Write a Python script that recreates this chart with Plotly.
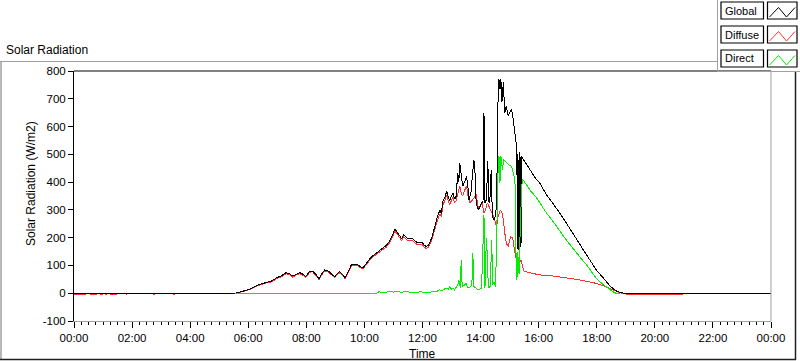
import plotly.graph_objects as go

# ---------------- data ----------------
global_times = ["00:00","05:32","05:45","06:03","06:20","06:34","06:48","06:59","07:08","07:18","07:25","07:32","07:40","07:47","07:53","07:59",
    "08:07","08:13","08:20","08:26","08:32","08:38","08:44","08:49","08:54","08:59","09:04","09:09","09:15","09:20","09:27","09:33",
    "09:40","09:46","09:52","09:57","10:05","10:15","10:25","10:38","10:45","10:50","10:57","11:03","11:10","11:17","11:21","11:26",
    "11:30","11:35","11:40","11:45","11:50","11:55","12:00","12:04","12:08","12:12","12:15","12:20","12:25","12:30","12:36","12:39",
    "12:42","12:46","12:50","12:53","12:56","13:00","13:03","13:06","13:09","13:13","13:15","13:17","13:20","13:23","13:27","13:31",
    "13:34","13:36","13:40","13:44","13:46","13:48","13:51","13:56","14:02","14:05","14:07","14:09","14:12","14:15","14:17","14:19",
    "14:22","14:24","14:26","14:29","14:33","14:36","14:38","14:40","14:42","14:44","14:47","14:50","14:53","14:57","15:00","15:04",
    "15:07","15:10","15:13","15:15","15:16","15:17","15:18","15:19","15:20","15:21","15:22","15:23","15:24","15:25","15:26","15:31",
    "15:38","15:45","15:53","16:02","16:09","16:16","16:26","16:37","16:47","16:57","17:08","17:18","17:29","17:39","17:49","17:59",
    "18:10","18:20","18:28","18:37","18:44","18:51","18:55","24:00"]
global_values = [0,0,5,15,30,38,44,56,62,74,70,62,70,74,68,60,
    80,80,68,52,70,84,80,75,66,60,70,78,68,55,80,102,
    104,102,96,91,110,132,145,163,172,183,205,232,212,196,210,203,
    196,198,196,188,181,184,181,172,168,172,181,205,240,270,300,285,
    331,345,367,350,331,350,362,340,343,434,400,470,421,385,400,421,
    380,337,360,434,480,457,319,300,326,330,650,326,337,475,330,326,
    445,300,265,265,313,687,770,734,770,687,759,650,674,638,650,662,
    632,578,547,518,160,500,155,480,170,510,165,490,180,495,488,475,
    455,433,415,397,375,355,332,307,280,253,222,192,165,138,110,84,
    62,42,25,12,5,2,0,0]

diffuse_times = ["00:00","00:25","00:27","00:33","00:47","00:49","00:54","01:00","01:02","01:04","01:08","01:10","01:14","01:29","01:31",
    "01:41","01:49","01:51","01:58","02:02","02:04","02:39","02:47","02:49","03:26","03:28","03:30","05:32",
    "05:45","06:03","06:20","06:34","06:48","06:59","07:08","07:18","07:25","07:32","07:40","07:47","07:53","07:59",
    "08:07","08:13","08:20","08:26","08:32","08:38","08:44","08:49","08:54","08:59","09:04","09:09","09:15","09:20","09:27","09:33",
    "09:40","09:46","09:52","09:57","10:05","10:15","10:25","10:38","10:45","10:50","10:57","11:03","11:10","11:17","11:21","11:26",
    "11:30","11:35","11:40","11:45","11:50","11:55","12:00","12:04","12:08","12:12","12:15","12:20","12:25","12:30","12:36","12:39",
    "12:42","12:46","12:50","12:53","12:56","13:00","13:03","13:06","13:09","13:13","13:17","13:20","13:23","13:27","13:31","13:34",
    "13:38","13:44","13:48","13:51","13:56","14:03","14:07","14:10","14:14","14:18","14:22","14:26","14:29","14:33","14:36","14:38",
    "14:41","14:43","14:46","14:50","14:53","14:57","15:00","15:02","15:05","15:07","15:10","15:14","15:19","15:22","15:24","15:27",
    "15:29","15:38","15:48","16:02","16:30","16:57","17:25","17:53","18:13","18:34","18:45","18:51","19:00","19:01","20:58","21:00","24:00"]
diffuse_values = [-3,-3,0,-3,-3,0,-3,-3,0,-3,-3,0,-3,-3,0,
    -3,-3,0,-3,-3,0,-3,-3,0,-3,-3,0,0,
    4,13,27,36,41,53,59,70,67,58,67,70,65,57,
    76,77,64,49,66,80,77,71,62,57,66,74,65,52,76,98,
    100,98,92,87,106,127,140,157,166,177,198,225,205,189,202,196,
    189,191,189,181,174,177,174,165,161,165,174,196,230,258,285,275,
    318,332,352,335,318,335,345,328,330,360,385,361,350,370,385,350,
    325,337,345,355,300,325,289,300,325,310,300,280,265,240,275,289,
    300,295,277,217,181,168,185,204,200,192,156,120,108,115,120,95,
    80,75,72,66,62,56,48,38,27,12,4,0,0,-3,-3,0,0]

direct_times = ["05:32","10:25","10:30","10:40","10:50","11:00","11:08","11:15","11:25","11:35","11:45","11:55","12:05","12:15","12:22",
    "12:29","12:35","12:40","12:45","12:50","12:53","12:56","13:00","13:03","13:06","13:10","13:13","13:15","13:18","13:20","13:22",
    "13:27","13:31","13:33","13:38","13:42","13:44","13:46","13:50","13:55","14:02","14:05","14:07","14:09","14:12","14:14","14:16",
    "14:20","14:23","14:25","14:28","14:31","14:34","14:36","14:38","14:40","14:42","14:45","14:48","14:53","14:58","15:04","15:07",
    "15:09","15:11","15:12","15:14","15:16","15:17","15:19","15:20","15:22","15:24","15:26","15:29","15:36","15:44","15:56","16:06",
    "16:16","16:27","16:37","16:47","16:57","17:08","17:18","17:29","17:39","17:49","17:59","18:10","18:20","18:30","18:37","18:43","18:48"]
direct_values = [0,0,5,2,6,4,8,3,6,4,2,5,3,2,8,
    6,12,8,15,18,14,24,14,19,12,24,30,48,20,120,24,
    30,36,19,22,30,144,24,20,12,19,174,280,19,200,130,20,
    24,190,30,40,24,326,433,493,397,493,445,481,470,462,457,430,
    421,410,200,48,150,60,132,70,250,330,409,405,385,367,343,315,
    289,265,240,216,192,168,144,122,102,77,54,36,22,10,2,-2,-2]

y_tick_values = [-100, 0, 100, 200, 300, 400, 500, 600, 700, 800]
y_tick_labels = ["-100", "0", "100", "200", "300", "400", "500", "600", "700", "800"]
legend_names = ["Global", "Diffuse", "Direct"]
legend_colors = ["#000000", "#ff3030", "#00ee00"]


def ts(t):
    if t == "24:00":
        return "2000-01-02 00:00"
    return "2000-01-01 " + t


FONT = "Liberation Sans"
L, T, W, H = 74, 71, 697, 250


def px(x):
    return (x - L) / W


def py(y):
    return (T + H - y) / H


fig = go.Figure()
fig.add_trace(go.Scatter(x=[ts(t) for t in diffuse_times], y=diffuse_values, mode="lines",
                         line=dict(color=legend_colors[1], width=1), name="Diffuse"))
fig.add_trace(go.Scatter(x=[ts(t) for t in global_times], y=global_values, mode="lines",
                         line=dict(color=legend_colors[0], width=1), name="Global"))
fig.add_trace(go.Scatter(x=[ts(t) for t in direct_times], y=direct_values, mode="lines",
                         line=dict(color=legend_colors[2], width=1), name="Direct"))

shapes = []
shapes.append(dict(type="line", xref="paper", yref="paper", x0=0, x1=1, y0=1, y1=1,
                   line=dict(color="black", width=1)))
shapes.append(dict(type="line", xref="paper", yref="paper", x0=1, x1=1, y0=0, y1=1,
                   line=dict(color="#a0a0a0", width=1)))
shapes.append(dict(type="line", xref="paper", yref="paper", x0=px(0), x1=px(717.5), y0=py(61.5), y1=py(61.5),
                   line=dict(color="#a0a0a0", width=1)))
shapes.append(dict(type="line", xref="paper", yref="paper", x0=px(1), x1=px(1), y0=py(61.5), y1=py(360),
                   line=dict(color="#a0a0a0", width=1.5)))
shapes.append(dict(type="line", xref="paper", yref="paper", x0=px(0), x1=px(796), y0=py(359.5), y1=py(359.5),
                   line=dict(color="#202020", width=1.5)))
shapes.append(dict(type="line", xref="paper", yref="paper", x0=px(795.5), x1=px(795.5), y0=py(72), y1=py(360),
                   line=dict(color="#202020", width=1.5)))
shapes.append(dict(type="line", xref="paper", yref="paper", x0=px(717.5), x1=px(717.5), y0=py(0), y1=py(71.5),
                   line=dict(color="#a0a0a0", width=1)))
shapes.append(dict(type="line", xref="paper", yref="paper", x0=px(717.5), x1=px(800), y0=py(71.5), y1=py(71.5),
                   line=dict(color="#a0a0a0", width=1)))

annotations = []
row_tops = [2, 26, 50]
for name, color, top in zip(legend_names, legend_colors, row_tops):
    shapes.append(dict(type="rect", xref="paper", yref="paper", x0=px(721), x1=px(763.5),
                       y0=py(top), y1=py(top + 17), line=dict(color="black", width=1.2), fillcolor="white"))
    shapes.append(dict(type="rect", xref="paper", yref="paper", x0=px(767.5), x1=px(797),
                       y0=py(top), y1=py(top + 17), line=dict(color="black", width=1.2), fillcolor="white"))
    pts = [(769.5, top + 15), (778.5, top + 5.5), (786.5, top + 15), (795, top + 5.5)]
    path = "M " + " L ".join(f"{px(a)},{py(b)}" for a, b in pts)
    shapes.append(dict(type="path", xref="paper", yref="paper", path=path,
                       line=dict(color=color, width=1)))
    annotations.append(dict(text=name, xref="paper", yref="paper", x=px(723), y=py(top + 8.5),
                            xanchor="left", yanchor="middle", showarrow=False,
                            font=dict(family=FONT, size=11, color="black")))

annotations.append(dict(text="Solar Radiation", xref="paper", yref="paper", x=px(4), y=py(50),
                        xanchor="left", yanchor="middle", showarrow=False,
                        font=dict(family=FONT, size=12, color="black")))
annotations.append(dict(text="Solar Radiation (W/m2)", xref="paper", yref="paper", x=px(31), y=py(184),
                        xanchor="center", yanchor="middle", textangle=-90, showarrow=False,
                        font=dict(family=FONT, size=12, color="black")))
annotations.append(dict(text="Time", xref="paper", yref="paper", x=0.5, y=py(354),
                        xanchor="center", yanchor="middle", showarrow=False,
                        font=dict(family=FONT, size=12, color="black")))

fig.update_layout(
    width=800, height=361,
    margin=dict(l=L, r=800 - L - W, t=T, b=361 - T - H, pad=0),
    paper_bgcolor="white", plot_bgcolor="white",
    showlegend=False,
    shapes=shapes, annotations=annotations,
    xaxis=dict(type="date", range=["2000-01-01 00:00", "2000-01-02 00:00"],
               tick0="2000-01-01 00:00", dtick=7200000, tickformat="%H:%M",
               ticks="outside", ticklen=6, tickcolor="black", tickwidth=1,
               minor=dict(dtick=900000, ticks="outside", ticklen=3, tickcolor="black", tickwidth=1),
               showgrid=False, zeroline=False, showline=True, linecolor="#a0a0a0", linewidth=1,
               tickfont=dict(family=FONT, size=11.5, color="black")),
    yaxis=dict(range=[-100, 800], tickvals=y_tick_values, ticktext=y_tick_labels,
               ticks="outside", ticklen=5, tickcolor="black", tickwidth=1,
               showgrid=False, zeroline=False, showline=True, linecolor="black", linewidth=1,
               tickfont=dict(family=FONT, size=11.5, color="black")),
)

post = ("document.body.style.margin='0';document.body.style.overflow='hidden';"
        "var s=document.createElement('style');"
        "s.textContent='.scatterlayer path.js-line{shape-rendering:crispEdges}';"
        "document.head.appendChild(s);")
fig.write_html("out.html", config={"displayModeBar": False}, post_script=post)
